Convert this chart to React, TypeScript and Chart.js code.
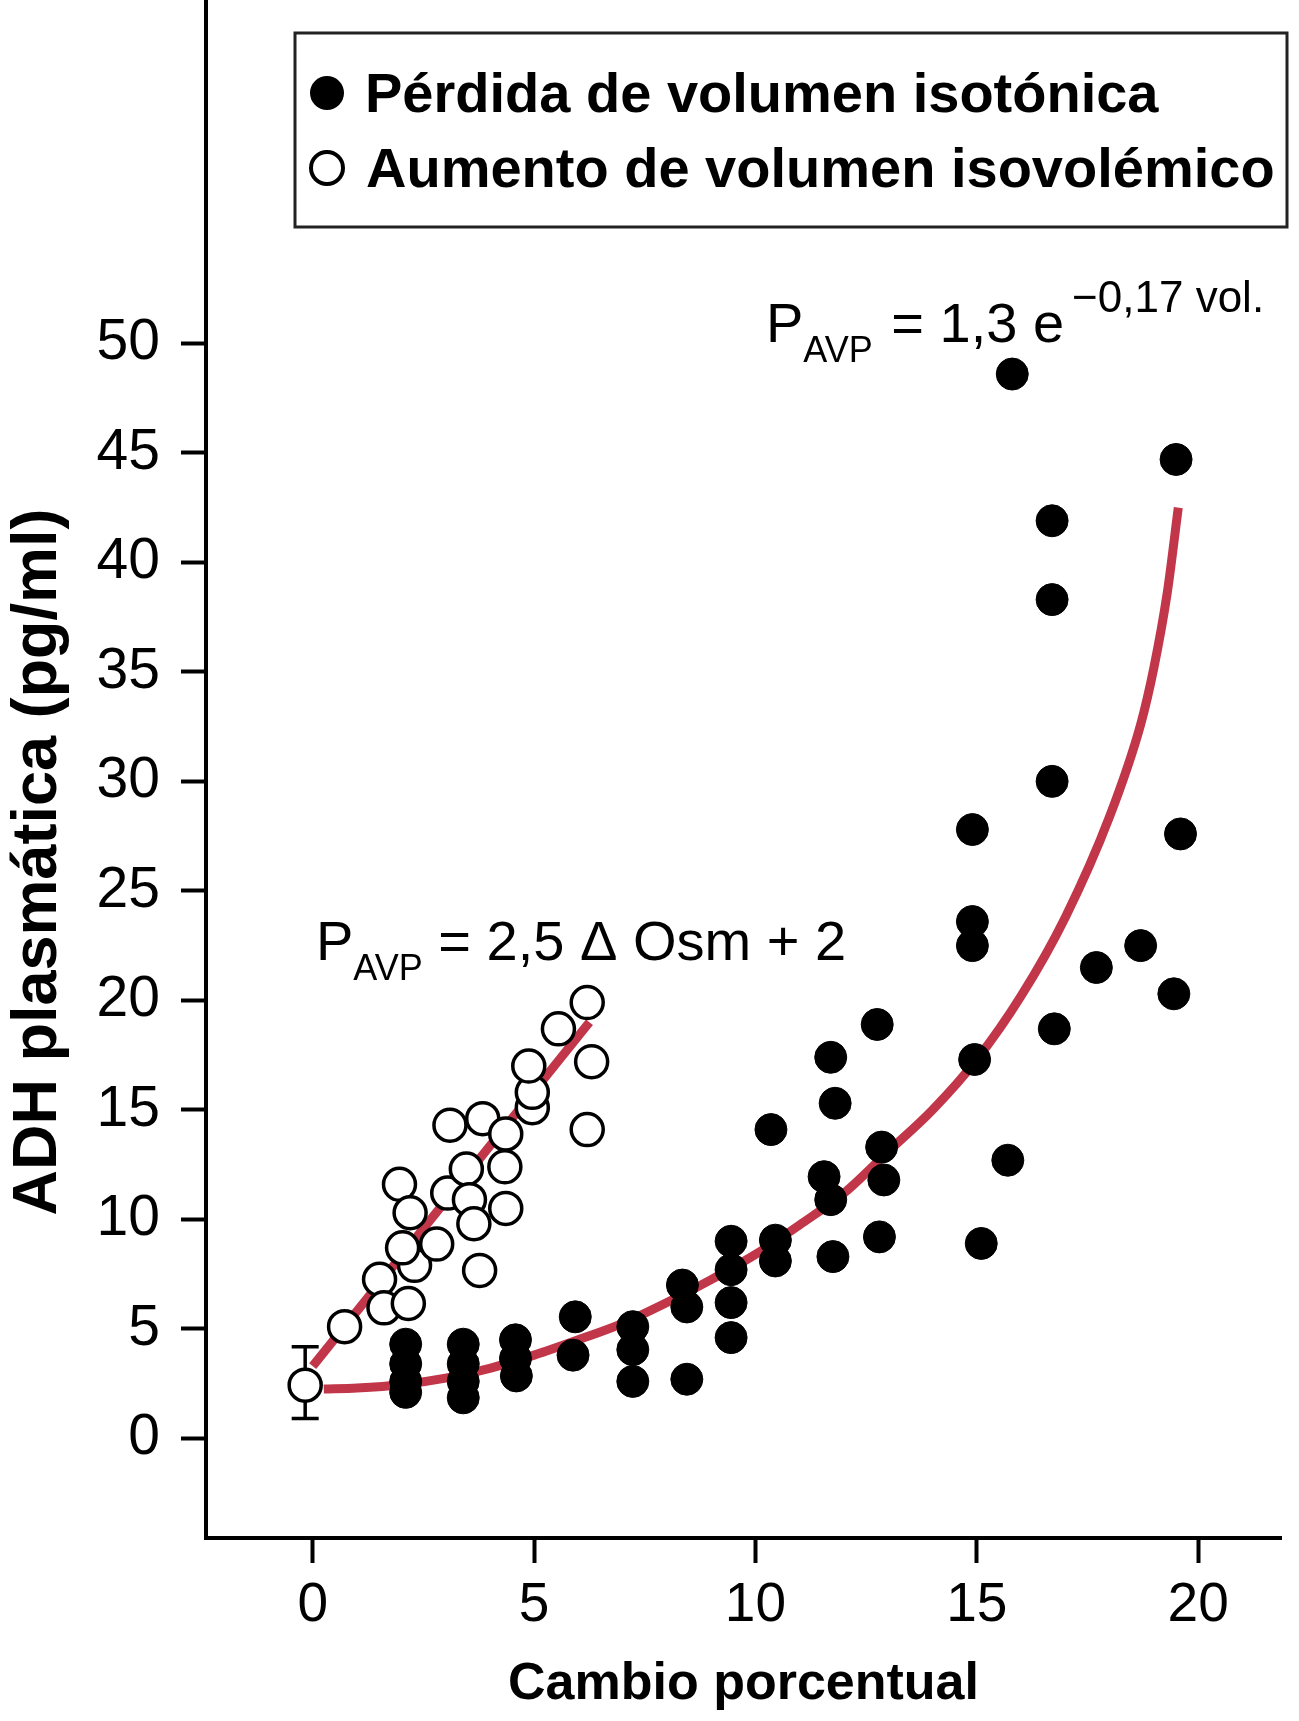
import React, { useEffect, useRef } from "react";
import { Chart, registerables } from "chart.js";

Chart.register(...registerables);

const FONT = "'Liberation Sans', Arial, Helvetica, sans-serif";

// Pérdida de volumen isotónica (filled circles)
const isotonicX = [
  2.1, 2.1, 2.1, 2.1,
  3.4, 3.4, 3.4, 3.4,
  4.58, 4.58, 4.6,
  5.93, 5.88,
  7.23, 7.23, 7.23,
  8.45, 8.35, 8.45,
  9.45, 9.45, 9.45, 9.45,
  10.45, 10.45, 10.35,
  11.7, 11.8, 11.55, 11.7, 11.75,
  12.75, 12.85, 12.9, 12.8,
  14.9, 14.9, 14.9, 14.95, 15.1, 15.7, 15.8,
  16.7, 16.7, 16.7, 16.75,
  17.7, 18.7, 19.45, 19.5, 19.6,
];
const isotonicY = [
  4.3, 3.4, 2.6, 2.1,
  4.3, 3.4, 2.6, 1.85,
  4.5, 3.65, 2.85,
  5.55, 3.8,
  5.1, 4.05, 2.6,
  2.7, 7.0, 6.0,
  9.0, 7.7, 6.2, 4.6,
  9.05, 8.1, 14.1,
  17.4, 15.3, 11.95, 10.9, 8.3,
  18.9, 13.3, 11.8, 9.2,
  27.8, 23.6, 22.5, 17.3, 8.9, 12.7, 48.6,
  41.9, 38.3, 30.0, 18.7,
  21.5, 22.5, 20.3, 44.7, 27.6,
];

// Aumento de volumen isovolémico (open circles)
const isovolemicX = [
  0.72, 1.51, 1.61, 2.16, 2.3, 2.03, 1.96, 2.2, 2.8, 3.05, 3.1, 3.47, 3.54,
  3.64, 3.77, 3.84, 4.36, 4.34, 4.36, 4.96, 4.96, 4.88, 5.55, 6.2, 6.3, 6.2,
];
const isovolemicY = [
  5.1, 7.26, 5.96, 6.16, 7.9, 8.7, 11.6, 10.3, 8.87, 11.2, 14.3, 12.3, 10.9,
  9.8, 7.67, 14.6, 13.9, 12.4, 10.5, 15.1, 15.8, 17.0, 18.7, 19.9, 17.2, 14.1,
];

// Baseline point with error bar
const baselineX = [-0.17];
const baselineY = [2.43];
const baselineLow = [0.91];
const baselineHigh = [4.18];

// Exponential fit curve
const expFitX = [0.25, 1, 2, 3, 4, 5, 6, 7, 8, 9, 10, 11, 12, 13, 14, 15, 16, 17, 18, 18.7, 19.0, 19.3, 19.55];
const expFitY = [2.25, 2.3, 2.45, 2.75, 3.2, 3.8, 4.5, 5.25, 6.2, 7.25, 8.4, 9.75, 11.2, 13.1, 15.0, 17.3, 20.2, 23.8, 28.4, 32.6, 35.2, 38.6, 42.5];

// Linear fit line
const linFitX = [0, 6.25];
const linFitY = [3.3, 19.0];

const xTickValues = [0, 5, 10, 15, 20];
const yTickValues = [0, 5, 10, 15, 20, 25, 30, 35, 40, 45, 50];

const legendLabels = ["Pérdida de volumen isotónica", "Aumento de volumen isovolémico"];
const xTitle = "Cambio porcentual";
const yTitle = "ADH plasmática (pg/ml)";
const eq1 = ["P", "AVP", " = 1,3 e", "\u22120,17 vol."];
const eq2 = ["P", "AVP", " = 2,5 \u0394 Osm + 2"];

const RED = "#c2364a";

const toPoints = (xs: number[], ys: number[]) => xs.map((x, i) => ({ x, y: ys[i] }));

type Run = { text: string; size: number; dy: number; gap?: number };
function drawRuns(ctx: CanvasRenderingContext2D, runs: Run[], x: number, baseline: number) {
  let cx = x;
  for (const r of runs) {
    cx += r.gap || 0;
    ctx.font = `${r.size}px ${FONT}`;
    ctx.fillText(r.text, cx, baseline + r.dy);
    cx += ctx.measureText(r.text).width;
  }
}

const annotationPlugin = {
  id: "annotations",
  beforeDatasetsDraw(chart: any) {
    const { ctx, scales } = chart;
    const x = scales.x;
    const y = scales.y;
    ctx.save();
    ctx.strokeStyle = "#000";
    ctx.lineWidth = 3.5;
    baselineX.forEach((bx, i) => {
      const px = x.getPixelForValue(bx);
      const top = y.getPixelForValue(baselineHigh[i]);
      const bot = y.getPixelForValue(baselineLow[i]);
      ctx.beginPath();
      ctx.moveTo(px, top);
      ctx.lineTo(px, bot);
      ctx.moveTo(px - 13.5, top);
      ctx.lineTo(px + 13.5, top);
      ctx.moveTo(px - 13.5, bot);
      ctx.lineTo(px + 13.5, bot);
      ctx.stroke();
    });
    ctx.restore();
  },
  afterDraw(chart: any) {
    const ctx: CanvasRenderingContext2D = chart.ctx;
    ctx.save();
    // legend box
    ctx.lineWidth = 3;
    ctx.strokeStyle = "#222";
    ctx.strokeRect(295, 33, 992, 194);
    // markers
    ctx.fillStyle = "#000";
    ctx.beginPath();
    ctx.arc(327, 93, 17, 0, Math.PI * 2);
    ctx.fill();
    ctx.beginPath();
    ctx.arc(327, 168, 16, 0, Math.PI * 2);
    ctx.fillStyle = "#fff";
    ctx.fill();
    ctx.lineWidth = 4;
    ctx.strokeStyle = "#000";
    ctx.stroke();
    // legend text
    ctx.fillStyle = "#000";
    ctx.textAlign = "left";
    ctx.textBaseline = "alphabetic";
    ctx.font = `bold 56px ${FONT}`;
    ctx.fillText(legendLabels[0], 365, 112);
    ctx.fillText(legendLabels[1], 366, 187);

    // equations
    drawRuns(
      ctx,
      [
        { text: eq1[0], size: 56, dy: 0 },
        { text: eq1[1], size: 36, dy: 20 },
        { text: eq1[2], size: 56, dy: 0, gap: 3 },
        { text: eq1[3], size: 44, dy: -30, gap: 8 },
      ],
      766,
      342
    );
    drawRuns(
      ctx,
      [
        { text: eq2[0], size: 56, dy: 0 },
        { text: eq2[1], size: 36, dy: 20 },
        { text: eq2[2], size: 56, dy: 0 },
      ],
      316,
      960
    );

    // y axis title
    ctx.translate(56, 862);
    ctx.rotate(-Math.PI / 2);
    ctx.textAlign = "center";
    ctx.font = `bold 63px ${FONT}`;
    ctx.fillText(yTitle, 0, 0);
    ctx.restore();
  },
};

export default function App() {
  const canvasRef = useRef<HTMLCanvasElement | null>(null);

  useEffect(() => {
    if (!canvasRef.current) return;
    const chart = new Chart(canvasRef.current, {
      type: "scatter",
      data: {
        datasets: [
          {
            label: legendLabels[0],
            data: toPoints(isotonicX, isotonicY),
            pointRadius: 16,
            pointBackgroundColor: "#000",
            pointBorderColor: "#000",
            pointBorderWidth: 1,
            showLine: false,
            order: 1,
          },
          {
            label: legendLabels[1],
            data: toPoints(isovolemicX, isovolemicY),
            pointRadius: 16,
            pointBackgroundColor: "#fff",
            pointBorderColor: "#000",
            pointBorderWidth: 3.5,
            showLine: false,
            order: 0,
          },
          {
            label: "Basal",
            data: toPoints(baselineX, baselineY),
            pointRadius: 16,
            pointBackgroundColor: "#fff",
            pointBorderColor: "#000",
            pointBorderWidth: 3.5,
            showLine: false,
            order: 0,
          },
          {
            label: "Ajuste exponencial",
            data: toPoints(expFitX, expFitY),
            showLine: true,
            pointRadius: 0,
            borderColor: RED,
            borderWidth: 9,
            cubicInterpolationMode: "monotone",
            order: 5,
          } as any,
          {
            label: "Ajuste lineal",
            data: toPoints(linFitX, linFitY),
            showLine: true,
            pointRadius: 0,
            borderColor: RED,
            borderWidth: 9,
            order: 5,
          },
        ],
      },
      options: {
        animation: false,
        responsive: false,
        maintainAspectRatio: false,
        layout: { autoPadding: false, padding: { left: 0, right: 18, top: 0, bottom: 0 } },
        plugins: {
          legend: { display: false },
          tooltip: { enabled: false },
        },
        scales: {
          x: {
            type: "linear",
            min: -2.41,
            max: 21.87,
            afterFit: (scale: any) => {
              scale.height = 183;
              scale.paddingLeft = 0;
              scale.paddingRight = 0;
              scale.paddingTop = 0;
              scale.paddingBottom = 0;
            },
            afterBuildTicks: (scale: any) => {
              scale.ticks = xTickValues.map((v) => ({ value: v }));
            },
            grid: {
              display: true,
              drawOnChartArea: false,
              drawTicks: true,
              tickLength: 25,
              tickWidth: 4,
              tickColor: "#000",
            },
            border: { display: true, color: "#000", width: 4 },
            ticks: {
              color: "#000",
              padding: 10,
              font: { family: FONT, size: 55 },
              maxRotation: 0,
              autoSkip: false,
            },
            title: {
              display: true,
              text: xTitle,
              color: "#000",
              font: { family: FONT, size: 52, weight: "bold" },
              padding: { top: 0, bottom: 5 },
            },
          },
          y: {
            type: "linear",
            min: -4.55,
            max: 65.68,
            afterFit: (scale: any) => {
              scale.width = 206;
              scale.paddingLeft = 0;
              scale.paddingRight = 0;
              scale.paddingTop = 0;
              scale.paddingBottom = 0;
            },
            afterBuildTicks: (scale: any) => {
              scale.ticks = yTickValues.map((v) => ({ value: v }));
            },
            grid: {
              display: true,
              drawOnChartArea: false,
              drawTicks: true,
              tickLength: 25,
              tickWidth: 4,
              tickColor: "#000",
            },
            border: { display: true, color: "#000", width: 4 },
            ticks: {
              color: "#000",
              padding: 21,
              font: { family: FONT, size: 57 },
              autoSkip: false,
            },
            title: { display: false, text: yTitle },
          },
        },
      } as any,
      plugins: [annotationPlugin],
    });
    return () => chart.destroy();
  }, []);

  return (
    <div
      style={{
        position: "absolute",
        left: 0,
        top: 0,
        width: 1299,
        height: 1721,
        background: "#fff",
      }}
    >
      <canvas ref={canvasRef} width={1299} height={1721} style={{ display: "block" }} />
    </div>
  );
}
